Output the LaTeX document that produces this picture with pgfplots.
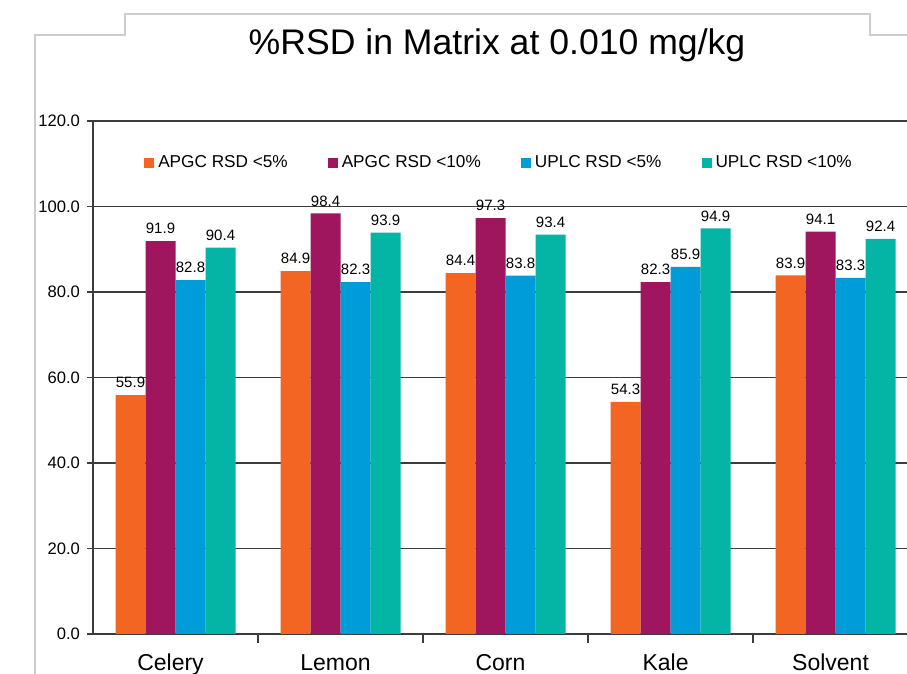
\documentclass[border=0pt]{standalone}
\usepackage{pgfplots}
\pgfplotsset{compat=1.18}
\usepackage{fontspec}
\setmainfont{Liberation Sans}

\definecolor{cOrange}{RGB}{242,101,34}
\definecolor{cMaroon}{RGB}{160,22,94}
\definecolor{cBlue}{RGB}{0,155,217}
\definecolor{cTeal}{RGB}{4,180,165}
\definecolor{gridc}{RGB}{60,60,60}
\definecolor{framec}{RGB}{205,205,205}

\begin{document}
\begin{tikzpicture}[x=0.5pt,y=0.5pt]
\useasboundingbox (0,0) rectangle (907,674);
% decorative frame
\draw[framec,line width=0.6pt] (35,0) -- (35,639) -- (125,639) -- (125,660) -- (870,660) -- (870,639) -- (907,639);
\node[font=\fontsize{17.8}{20}\selectfont] at (497,629) {\%RSD in Matrix at 0.010 mg/kg};
\begin{axis}[
    at={(46.5pt,20pt)}, anchor=south west,
    scale only axis,
    width=407pt, height=256.5pt,
    ymin=0, ymax=120,
    xmin=-0.5, xmax=4.433,
    ytick={0,20,...,120},
    yticklabel style={/pgf/number format/.cd,fixed,fixed zerofill,precision=1},
    /pgf/number format/assume math mode=true,
    ticklabel style={font=\fontsize{8.3}{9}\selectfont},
    xtick={0,1,2,3,4},
    xticklabels={Celery,Lemon,Corn,Kale,Solvent},
    xticklabel style={font=\fontsize{11.5}{13}\selectfont, anchor=base, yshift=-15.5pt, xshift=-2.5pt},
    minor xtick={0.5,1.5,2.5,3.5},
    tick align=outside,
    major x tick style={draw=none},
    major tick length=3pt,
    minor tick length=4.5pt,
    tick style={gridc, line width=0.8pt},
    axis x line*=bottom,
    axis y line*=left,
    axis line style={gridc, line width=0.8pt, -},
    ymajorgrids,
    grid style={gridc, line width=0.8pt},
    ybar=0pt, bar width=15pt,
    nodes near coords,
    every node near coord/.append style={font=\fontsize{7.5}{8}\selectfont, black,
        /pgf/number format/.cd, fixed, fixed zerofill, precision=1, assume math mode=true},
    legend columns=4,
    legend style={at={(0.5,0.918)}, anchor=center, draw=none, fill=none,
        font=\fontsize{8.6}{10}\selectfont,
        /tikz/every even column/.append style={column sep=18pt}},
    legend image code/.code={\fill[#1,draw=none] (0pt,-2.4pt) rectangle (5pt,2.6pt);},
]
\addplot[fill=cOrange, draw=none] coordinates {(0,55.9) (1,84.9) (2,84.4) (3,54.3) (4,83.9)};
\addplot[fill=cMaroon, draw=none] coordinates {(0,91.9) (1,98.4) (2,97.3) (3,82.3) (4,94.1)};
\addplot[fill=cBlue, draw=none] coordinates {(0,82.8) (1,82.3) (2,83.8) (3,85.9) (4,83.3)};
\addplot[fill=cTeal, draw=none] coordinates {(0,90.4) (1,93.9) (2,93.4) (3,94.9) (4,92.4)};
\legend{APGC RSD <5\%, APGC RSD <10\%, UPLC RSD <5\%, UPLC RSD <10\%}
\end{axis}
\end{tikzpicture}
\end{document}
